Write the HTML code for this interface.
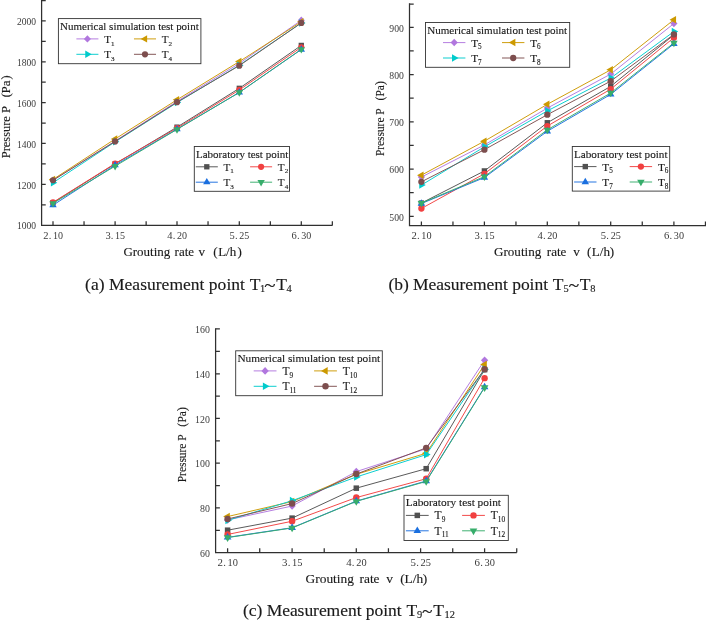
<!DOCTYPE html>
<html><head><meta charset="utf-8"><title>Grouting pressure curves</title>
<style>html,body{margin:0;padding:0;background:#fff}svg{display:block}svg{will-change:transform}text{font-family:"Liberation Serif", serif;}</style></head><body>
<svg width="706" height="621" viewBox="0 0 706 621">
<rect width="706" height="621" fill="#fff"/>
<path d="M41.60 -2.00V225.30H332.60" fill="none" stroke="#303030" stroke-width="1.25"/>
<path d="M53.00 225.30v-4.13M84.04 225.30v-4.13M115.10 225.30v-4.13M146.14 225.30v-4.13M177.00 225.30v-4.13M208.04 225.30v-4.13M239.30 225.30v-4.13M270.34 225.30v-4.13M301.30 225.30v-4.13M332.34 225.30v-4.13M41.60 20.90h4.13M41.60 41.33h4.13M41.60 61.76h4.13M41.60 82.19h4.13M41.60 102.62h4.13M41.60 123.05h4.13M41.60 143.48h4.13M41.60 163.91h4.13M41.60 184.34h4.13M41.60 204.77h4.13M41.60 0.50h4.13" fill="none" stroke="#303030" stroke-width="1.25"/>
<text x="36.09" y="25.13" font-size="10.53" text-anchor="end" fill="#3a3a3a" textLength="19.09" lengthAdjust="spacingAndGlyphs">2000</text>
<text x="36.09" y="65.99" font-size="10.53" text-anchor="end" fill="#3a3a3a" textLength="19.09" lengthAdjust="spacingAndGlyphs">1800</text>
<text x="36.09" y="106.85" font-size="10.53" text-anchor="end" fill="#3a3a3a" textLength="19.09" lengthAdjust="spacingAndGlyphs">1600</text>
<text x="36.09" y="147.71" font-size="10.53" text-anchor="end" fill="#3a3a3a" textLength="19.09" lengthAdjust="spacingAndGlyphs">1400</text>
<text x="36.09" y="188.57" font-size="10.53" text-anchor="end" fill="#3a3a3a" textLength="19.09" lengthAdjust="spacingAndGlyphs">1200</text>
<text x="36.09" y="229.43" font-size="10.53" text-anchor="end" fill="#3a3a3a" textLength="19.09" lengthAdjust="spacingAndGlyphs">1000</text>
<text y="239.00" font-size="10.53" fill="#3a3a3a"><tspan x="43.31" textLength="5.25" lengthAdjust="spacingAndGlyphs">2</tspan><tspan x="48.73">.</tspan><tspan x="52.95" textLength="10.02" lengthAdjust="spacingAndGlyphs">10</tspan></text>
<text y="239.00" font-size="10.53" fill="#3a3a3a"><tspan x="105.41" textLength="5.25" lengthAdjust="spacingAndGlyphs">3</tspan><tspan x="110.83">.</tspan><tspan x="115.05" textLength="10.02" lengthAdjust="spacingAndGlyphs">15</tspan></text>
<text y="239.00" font-size="10.53" fill="#3a3a3a"><tspan x="167.31" textLength="5.25" lengthAdjust="spacingAndGlyphs">4</tspan><tspan x="172.73">.</tspan><tspan x="176.95" textLength="10.02" lengthAdjust="spacingAndGlyphs">20</tspan></text>
<text y="239.00" font-size="10.53" fill="#3a3a3a"><tspan x="229.61" textLength="5.25" lengthAdjust="spacingAndGlyphs">5</tspan><tspan x="235.03">.</tspan><tspan x="239.25" textLength="10.02" lengthAdjust="spacingAndGlyphs">25</tspan></text>
<text y="239.00" font-size="10.53" fill="#3a3a3a"><tspan x="291.61" textLength="5.25" lengthAdjust="spacingAndGlyphs">6</tspan><tspan x="297.03">.</tspan><tspan x="301.25" textLength="10.02" lengthAdjust="spacingAndGlyphs">30</tspan></text>
<text y="255.50" font-size="13.0" fill="#1a1a1a" stroke="#1a1a1a" stroke-width="0.13"><tspan x="123.40">Grouting</tspan><tspan x="174.60">rate</tspan><tspan x="198.60">v</tspan><tspan x="213.20">(</tspan><tspan x="218.15">L/h</tspan><tspan x="237.50">)</tspan></text>
<text transform="translate(10.40 158.20) rotate(-90)" font-size="12.4" fill="#1a1a1a" stroke="#1a1a1a" stroke-width="0.13"><tspan x="0">Pressure P</tspan><tspan x="60.90">(</tspan><tspan x="64.80" textLength="13.00" lengthAdjust="spacingAndGlyphs">Pa</tspan><tspan x="78.70">)</tspan></text>
<polyline points="53.00,202.73 115.10,163.91 177.00,127.14 239.30,88.32 301.30,45.42" fill="none" stroke="#515151" stroke-width="0.95"/>
<rect x="50.34" y="200.07" width="5.31" height="5.31" fill="#515151"/>
<rect x="112.44" y="161.25" width="5.31" height="5.31" fill="#515151"/>
<rect x="174.34" y="124.48" width="5.31" height="5.31" fill="#515151"/>
<rect x="236.64" y="85.66" width="5.31" height="5.31" fill="#515151"/>
<rect x="298.64" y="42.76" width="5.31" height="5.31" fill="#515151"/>
<polyline points="53.00,202.32 115.10,163.50 177.00,128.16 239.30,89.95 301.30,47.25" fill="none" stroke="#F14040" stroke-width="0.95"/>
<circle cx="53.00" cy="202.32" r="3.10" fill="#F14040"/>
<circle cx="115.10" cy="163.50" r="3.10" fill="#F14040"/>
<circle cx="177.00" cy="128.16" r="3.10" fill="#F14040"/>
<circle cx="239.30" cy="89.95" r="3.10" fill="#F14040"/>
<circle cx="301.30" cy="47.25" r="3.10" fill="#F14040"/>
<polyline points="53.00,205.18 115.10,165.14 177.00,129.18 239.30,92.41 301.30,49.50" fill="none" stroke="#1A6FDF" stroke-width="0.95"/>
<path d="M49.31 207.31L56.69 207.31L53.00 200.92Z" fill="#1A6FDF"/>
<path d="M111.41 167.27L118.79 167.27L115.10 160.88Z" fill="#1A6FDF"/>
<path d="M173.31 131.31L180.69 131.31L177.00 124.92Z" fill="#1A6FDF"/>
<path d="M235.61 94.54L242.99 94.54L239.30 88.14Z" fill="#1A6FDF"/>
<path d="M297.61 51.63L304.99 51.63L301.30 45.24Z" fill="#1A6FDF"/>
<polyline points="53.00,203.34 115.10,166.16 177.00,129.38 239.30,92.41 301.30,49.30" fill="none" stroke="#37AD6B" stroke-width="0.95"/>
<path d="M49.31 201.21L56.69 201.21L53.00 207.60Z" fill="#37AD6B"/>
<path d="M111.41 164.03L118.79 164.03L115.10 170.42Z" fill="#37AD6B"/>
<path d="M173.31 127.25L180.69 127.25L177.00 133.64Z" fill="#37AD6B"/>
<path d="M235.61 90.27L242.99 90.27L239.30 96.67Z" fill="#37AD6B"/>
<path d="M297.61 47.17L304.99 47.17L301.30 53.56Z" fill="#37AD6B"/>
<polyline points="53.00,180.25 115.10,141.03 177.00,101.39 239.30,63.39 301.30,20.29" fill="none" stroke="#B177DE" stroke-width="0.95"/>
<path d="M49.46 180.25L53.00 176.56L56.54 180.25L53.00 183.94Z" fill="#B177DE"/>
<path d="M111.56 141.03L115.10 137.34L118.64 141.03L115.10 144.72Z" fill="#B177DE"/>
<path d="M173.46 101.39L177.00 97.70L180.54 101.39L177.00 105.08Z" fill="#B177DE"/>
<path d="M235.76 63.39L239.30 59.70L242.84 63.39L239.30 67.08Z" fill="#B177DE"/>
<path d="M297.76 20.29L301.30 16.60L304.84 20.29L301.30 23.98Z" fill="#B177DE"/>
<polyline points="53.00,179.44 115.10,138.99 177.00,99.76 239.30,61.56 301.30,21.72" fill="none" stroke="#CC9900" stroke-width="0.95"/>
<path d="M48.74 179.44L55.13 175.75L55.13 183.13Z" fill="#CC9900"/>
<path d="M110.84 138.99L117.23 135.30L117.23 142.68Z" fill="#CC9900"/>
<path d="M172.74 99.76L179.13 96.07L179.13 103.45Z" fill="#CC9900"/>
<path d="M235.04 61.56L241.43 57.87L241.43 65.25Z" fill="#CC9900"/>
<path d="M297.04 21.72L303.43 18.03L303.43 25.41Z" fill="#CC9900"/>
<polyline points="53.00,182.71 115.10,141.85 177.00,102.62 239.30,65.23 301.30,22.94" fill="none" stroke="#00CBCC" stroke-width="0.95"/>
<path d="M57.26 182.71L50.87 179.02L50.87 186.40Z" fill="#00CBCC"/>
<path d="M119.36 141.85L112.97 138.16L112.97 145.54Z" fill="#00CBCC"/>
<path d="M181.26 102.62L174.87 98.93L174.87 106.31Z" fill="#00CBCC"/>
<path d="M243.56 65.23L237.17 61.54L237.17 68.92Z" fill="#00CBCC"/>
<path d="M305.56 22.94L299.17 19.25L299.17 26.63Z" fill="#00CBCC"/>
<polyline points="53.00,180.25 115.10,141.44 177.00,102.21 239.30,65.64 301.30,22.94" fill="none" stroke="#7D4E4E" stroke-width="0.95"/>
<circle cx="53.00" cy="180.25" r="3.10" fill="#7D4E4E"/>
<circle cx="115.10" cy="141.44" r="3.10" fill="#7D4E4E"/>
<circle cx="177.00" cy="102.21" r="3.10" fill="#7D4E4E"/>
<circle cx="239.30" cy="65.64" r="3.10" fill="#7D4E4E"/>
<circle cx="301.30" cy="22.94" r="3.10" fill="#7D4E4E"/>
<rect x="58.40" y="18.60" width="142.50" height="45.10" fill="#fff" stroke="#333" stroke-width="0.9"/>
<text x="60.10" y="29.90" font-size="10.92" text-anchor="start" fill="#1a1a1a" textLength="138.60" lengthAdjust="spacingAndGlyphs" stroke="#1a1a1a" stroke-width="0.13">Numerical simulation test point</text>
<path d="M76.38 38.90h22.04" stroke="#B177DE" stroke-width="0.95" fill="none"/>
<path d="M83.86 38.90L87.40 35.21L90.94 38.90L87.40 42.59Z" fill="#B177DE"/>
<text x="104.13" y="42.90" font-size="11.12" text-anchor="start" fill="#1a1a1a" stroke="#1a1a1a" stroke-width="0.13">T<tspan dy="2.6" font-size="7.08">1</tspan></text>
<path d="M133.98 38.90h22.04" stroke="#CC9900" stroke-width="0.95" fill="none"/>
<path d="M140.74 38.90L147.13 35.21L147.13 42.59Z" fill="#CC9900"/>
<text x="161.73" y="42.90" font-size="11.12" text-anchor="start" fill="#1a1a1a" stroke="#1a1a1a" stroke-width="0.13">T<tspan dy="2.6" font-size="7.08">2</tspan></text>
<path d="M76.38 54.30h22.04" stroke="#00CBCC" stroke-width="0.95" fill="none"/>
<path d="M91.66 54.30L85.27 50.61L85.27 57.99Z" fill="#00CBCC"/>
<text x="104.13" y="58.30" font-size="11.12" text-anchor="start" fill="#1a1a1a" stroke="#1a1a1a" stroke-width="0.13">T<tspan dy="2.6" font-size="7.08">3</tspan></text>
<path d="M133.98 54.30h22.04" stroke="#7D4E4E" stroke-width="0.95" fill="none"/>
<circle cx="145.00" cy="54.30" r="3.10" fill="#7D4E4E"/>
<text x="161.73" y="58.30" font-size="11.12" text-anchor="start" fill="#1a1a1a" stroke="#1a1a1a" stroke-width="0.13">T<tspan dy="2.6" font-size="7.08">4</tspan></text>
<rect x="194.30" y="146.50" width="95.20" height="44.80" fill="#fff" stroke="#333" stroke-width="0.9"/>
<text x="196.00" y="157.80" font-size="10.92" text-anchor="start" fill="#1a1a1a" textLength="92.30" lengthAdjust="spacingAndGlyphs" stroke="#1a1a1a" stroke-width="0.13">Laboratory test point</text>
<path d="M195.78 166.80h22.04" stroke="#515151" stroke-width="0.95" fill="none"/>
<rect x="204.14" y="164.14" width="5.31" height="5.31" fill="#515151"/>
<text x="223.53" y="170.80" font-size="11.12" text-anchor="start" fill="#1a1a1a" stroke="#1a1a1a" stroke-width="0.13">T<tspan dy="2.6" font-size="7.08">1</tspan></text>
<path d="M250.08 166.80h22.04" stroke="#F14040" stroke-width="0.95" fill="none"/>
<circle cx="261.10" cy="166.80" r="3.10" fill="#F14040"/>
<text x="277.83" y="170.80" font-size="11.12" text-anchor="start" fill="#1a1a1a" stroke="#1a1a1a" stroke-width="0.13">T<tspan dy="2.6" font-size="7.08">2</tspan></text>
<path d="M195.78 182.20h22.04" stroke="#1A6FDF" stroke-width="0.95" fill="none"/>
<path d="M203.11 184.33L210.49 184.33L206.80 177.94Z" fill="#1A6FDF"/>
<text x="223.53" y="186.20" font-size="11.12" text-anchor="start" fill="#1a1a1a" stroke="#1a1a1a" stroke-width="0.13">T<tspan dy="2.6" font-size="7.08">3</tspan></text>
<path d="M250.08 182.20h22.04" stroke="#37AD6B" stroke-width="0.95" fill="none"/>
<path d="M257.41 180.07L264.79 180.07L261.10 186.46Z" fill="#37AD6B"/>
<text x="277.83" y="186.20" font-size="11.12" text-anchor="start" fill="#1a1a1a" stroke="#1a1a1a" stroke-width="0.13">T<tspan dy="2.6" font-size="7.08">4</tspan></text>
<path d="M409.50 3.35V225.70H707.00" fill="none" stroke="#303030" stroke-width="1.25"/>
<path d="M421.40 225.70v-4.20M452.96 225.70v-4.20M484.40 225.70v-4.20M515.96 225.70v-4.20M547.30 225.70v-4.20M578.86 225.70v-4.20M610.70 225.70v-4.20M642.26 225.70v-4.20M673.90 225.70v-4.20M705.46 225.70v-4.20M409.50 27.30h4.20M409.50 50.92h4.20M409.50 74.55h4.20M409.50 98.17h4.20M409.50 121.80h4.20M409.50 145.43h4.20M409.50 169.05h4.20M409.50 192.68h4.20M409.50 216.30h4.20M409.50 4.00h4.20" fill="none" stroke="#303030" stroke-width="1.25"/>
<text x="403.90" y="31.60" font-size="10.7" text-anchor="end" fill="#3a3a3a" textLength="14.55" lengthAdjust="spacingAndGlyphs">900</text>
<text x="403.90" y="78.85" font-size="10.7" text-anchor="end" fill="#3a3a3a" textLength="14.55" lengthAdjust="spacingAndGlyphs">800</text>
<text x="403.90" y="126.10" font-size="10.7" text-anchor="end" fill="#3a3a3a" textLength="14.55" lengthAdjust="spacingAndGlyphs">700</text>
<text x="403.90" y="173.35" font-size="10.7" text-anchor="end" fill="#3a3a3a" textLength="14.55" lengthAdjust="spacingAndGlyphs">600</text>
<text x="403.90" y="220.60" font-size="10.7" text-anchor="end" fill="#3a3a3a" textLength="14.55" lengthAdjust="spacingAndGlyphs">500</text>
<text y="238.70" font-size="10.7" fill="#3a3a3a"><tspan x="411.55" textLength="5.33" lengthAdjust="spacingAndGlyphs">2</tspan><tspan x="417.05">.</tspan><tspan x="421.35" textLength="10.19" lengthAdjust="spacingAndGlyphs">10</tspan></text>
<text y="238.70" font-size="10.7" fill="#3a3a3a"><tspan x="474.55" textLength="5.33" lengthAdjust="spacingAndGlyphs">3</tspan><tspan x="480.05">.</tspan><tspan x="484.35" textLength="10.19" lengthAdjust="spacingAndGlyphs">15</tspan></text>
<text y="238.70" font-size="10.7" fill="#3a3a3a"><tspan x="537.45" textLength="5.33" lengthAdjust="spacingAndGlyphs">4</tspan><tspan x="542.95">.</tspan><tspan x="547.25" textLength="10.19" lengthAdjust="spacingAndGlyphs">20</tspan></text>
<text y="238.70" font-size="10.7" fill="#3a3a3a"><tspan x="600.85" textLength="5.33" lengthAdjust="spacingAndGlyphs">5</tspan><tspan x="606.35">.</tspan><tspan x="610.65" textLength="10.19" lengthAdjust="spacingAndGlyphs">25</tspan></text>
<text y="238.70" font-size="10.7" fill="#3a3a3a"><tspan x="664.05" textLength="5.33" lengthAdjust="spacingAndGlyphs">6</tspan><tspan x="669.55">.</tspan><tspan x="673.85" textLength="10.19" lengthAdjust="spacingAndGlyphs">30</tspan></text>
<text y="255.90" font-size="13.1" fill="#1a1a1a" stroke="#1a1a1a" stroke-width="0.13"><tspan x="494.00">Grouting</tspan><tspan x="546.80">rate</tspan><tspan x="573.30">v</tspan><tspan x="587.10">(</tspan><tspan x="591.75">L/h</tspan><tspan x="609.70">)</tspan></text>
<text transform="translate(383.80 156.10) rotate(-90)" font-size="11.7" fill="#1a1a1a" stroke="#1a1a1a" stroke-width="0.13"><tspan x="0" textLength="47.70" lengthAdjust="spacingAndGlyphs">Pressure P</tspan><tspan x="55.50">(</tspan><tspan x="59.60" textLength="11.30" lengthAdjust="spacingAndGlyphs">Pa</tspan><tspan x="71.10">)</tspan></text>
<polyline points="421.40,203.07 484.40,170.94 547.30,122.75 610.70,86.36 673.90,34.86" fill="none" stroke="#515151" stroke-width="0.95"/>
<rect x="418.70" y="200.37" width="5.40" height="5.40" fill="#515151"/>
<rect x="481.70" y="168.24" width="5.40" height="5.40" fill="#515151"/>
<rect x="544.60" y="120.05" width="5.40" height="5.40" fill="#515151"/>
<rect x="608.00" y="83.66" width="5.40" height="5.40" fill="#515151"/>
<rect x="671.20" y="32.16" width="5.40" height="5.40" fill="#515151"/>
<polyline points="421.40,208.50 484.40,173.78 547.30,126.05 610.70,89.20 673.90,37.70" fill="none" stroke="#F14040" stroke-width="0.95"/>
<circle cx="421.40" cy="208.50" r="3.15" fill="#F14040"/>
<circle cx="484.40" cy="173.78" r="3.15" fill="#F14040"/>
<circle cx="547.30" cy="126.05" r="3.15" fill="#F14040"/>
<circle cx="610.70" cy="89.20" r="3.15" fill="#F14040"/>
<circle cx="673.90" cy="37.70" r="3.15" fill="#F14040"/>
<polyline points="421.40,203.54 484.40,177.56 547.30,131.25 610.70,94.40 673.90,43.84" fill="none" stroke="#1A6FDF" stroke-width="0.95"/>
<path d="M417.65 205.71L425.15 205.71L421.40 199.21Z" fill="#1A6FDF"/>
<path d="M480.65 179.72L488.15 179.72L484.40 173.22Z" fill="#1A6FDF"/>
<path d="M543.55 133.41L551.05 133.41L547.30 126.92Z" fill="#1A6FDF"/>
<path d="M606.95 96.56L614.45 96.56L610.70 90.07Z" fill="#1A6FDF"/>
<path d="M670.15 46.00L677.65 46.00L673.90 39.51Z" fill="#1A6FDF"/>
<polyline points="421.40,203.07 484.40,176.61 547.30,129.83 610.70,92.98 673.90,42.89" fill="none" stroke="#37AD6B" stroke-width="0.95"/>
<path d="M417.65 200.91L425.15 200.91L421.40 207.40Z" fill="#37AD6B"/>
<path d="M480.65 174.45L488.15 174.45L484.40 180.94Z" fill="#37AD6B"/>
<path d="M543.55 127.67L551.05 127.67L547.30 134.16Z" fill="#37AD6B"/>
<path d="M606.95 90.81L614.45 90.81L610.70 97.31Z" fill="#37AD6B"/>
<path d="M670.15 40.73L677.65 40.73L673.90 47.22Z" fill="#37AD6B"/>
<polyline points="421.40,177.08 484.40,144.95 547.30,108.10 610.70,74.08 673.90,23.52" fill="none" stroke="#B177DE" stroke-width="0.95"/>
<path d="M417.80 177.08L421.40 173.33L425.00 177.08L421.40 180.83Z" fill="#B177DE"/>
<path d="M480.80 144.95L484.40 141.20L488.00 144.95L484.40 148.70Z" fill="#B177DE"/>
<path d="M543.70 108.10L547.30 104.35L550.90 108.10L547.30 111.85Z" fill="#B177DE"/>
<path d="M607.10 74.08L610.70 70.33L614.30 74.08L610.70 77.83Z" fill="#B177DE"/>
<path d="M670.30 23.52L673.90 19.77L677.50 23.52L673.90 27.27Z" fill="#B177DE"/>
<polyline points="421.40,175.19 484.40,141.17 547.30,104.32 610.70,69.83 673.90,19.74" fill="none" stroke="#CC9900" stroke-width="0.95"/>
<path d="M417.07 175.19L423.56 171.44L423.56 178.94Z" fill="#CC9900"/>
<path d="M480.07 141.17L486.56 137.42L486.56 144.92Z" fill="#CC9900"/>
<path d="M542.97 104.32L549.46 100.57L549.46 108.07Z" fill="#CC9900"/>
<path d="M606.37 69.83L612.87 66.08L612.87 73.58Z" fill="#CC9900"/>
<path d="M669.57 19.74L676.06 15.99L676.06 23.49Z" fill="#CC9900"/>
<polyline points="421.40,185.12 484.40,146.84 547.30,110.93 610.70,78.09 673.90,31.55" fill="none" stroke="#00CBCC" stroke-width="0.95"/>
<path d="M425.73 185.12L419.23 181.37L419.23 188.87Z" fill="#00CBCC"/>
<path d="M488.73 146.84L482.23 143.09L482.23 150.59Z" fill="#00CBCC"/>
<path d="M551.63 110.93L545.13 107.18L545.13 114.68Z" fill="#00CBCC"/>
<path d="M615.03 78.09L608.54 74.34L608.54 81.84Z" fill="#00CBCC"/>
<path d="M678.23 31.55L671.74 27.80L671.74 35.30Z" fill="#00CBCC"/>
<polyline points="421.40,181.81 484.40,149.68 547.30,114.71 610.70,81.17 673.90,34.39" fill="none" stroke="#7D4E4E" stroke-width="0.95"/>
<circle cx="421.40" cy="181.81" r="3.15" fill="#7D4E4E"/>
<circle cx="484.40" cy="149.68" r="3.15" fill="#7D4E4E"/>
<circle cx="547.30" cy="114.71" r="3.15" fill="#7D4E4E"/>
<circle cx="610.70" cy="81.17" r="3.15" fill="#7D4E4E"/>
<circle cx="673.90" cy="34.39" r="3.15" fill="#7D4E4E"/>
<rect x="425.50" y="22.50" width="144.20" height="44.80" fill="#fff" stroke="#333" stroke-width="0.9"/>
<text x="427.20" y="33.60" font-size="11.1" text-anchor="start" fill="#1a1a1a" textLength="140.00" lengthAdjust="spacingAndGlyphs" stroke="#1a1a1a" stroke-width="0.13">Numerical simulation test point</text>
<path d="M443.00 42.60h22.40" stroke="#B177DE" stroke-width="0.95" fill="none"/>
<path d="M450.60 42.60L454.20 38.85L457.80 42.60L454.20 46.35Z" fill="#B177DE"/>
<text x="471.20" y="46.60" font-size="11.3" text-anchor="start" fill="#1a1a1a" stroke="#1a1a1a" stroke-width="0.13">T<tspan dy="2.6" font-size="7.2">5</tspan></text>
<path d="M502.00 42.60h22.40" stroke="#CC9900" stroke-width="0.95" fill="none"/>
<path d="M508.87 42.60L515.37 38.85L515.37 46.35Z" fill="#CC9900"/>
<text x="530.20" y="46.60" font-size="11.3" text-anchor="start" fill="#1a1a1a" stroke="#1a1a1a" stroke-width="0.13">T<tspan dy="2.6" font-size="7.2">6</tspan></text>
<path d="M443.00 58.00h22.40" stroke="#00CBCC" stroke-width="0.95" fill="none"/>
<path d="M458.53 58.00L452.03 54.25L452.03 61.75Z" fill="#00CBCC"/>
<text x="471.20" y="62.00" font-size="11.3" text-anchor="start" fill="#1a1a1a" stroke="#1a1a1a" stroke-width="0.13">T<tspan dy="2.6" font-size="7.2">7</tspan></text>
<path d="M502.00 58.00h22.40" stroke="#7D4E4E" stroke-width="0.95" fill="none"/>
<circle cx="513.20" cy="58.00" r="3.15" fill="#7D4E4E"/>
<text x="530.20" y="62.00" font-size="11.3" text-anchor="start" fill="#1a1a1a" stroke="#1a1a1a" stroke-width="0.13">T<tspan dy="2.6" font-size="7.2">8</tspan></text>
<rect x="572.30" y="146.50" width="97.40" height="44.60" fill="#fff" stroke="#333" stroke-width="0.9"/>
<text x="574.00" y="157.60" font-size="11.1" text-anchor="start" fill="#1a1a1a" textLength="93.50" lengthAdjust="spacingAndGlyphs" stroke="#1a1a1a" stroke-width="0.13">Laboratory test point</text>
<path d="M574.10 166.60h22.40" stroke="#515151" stroke-width="0.95" fill="none"/>
<rect x="582.60" y="163.90" width="5.40" height="5.40" fill="#515151"/>
<text x="602.30" y="170.60" font-size="11.3" text-anchor="start" fill="#1a1a1a" stroke="#1a1a1a" stroke-width="0.13">T<tspan dy="2.6" font-size="7.2">5</tspan></text>
<path d="M629.70 166.60h22.40" stroke="#F14040" stroke-width="0.95" fill="none"/>
<circle cx="640.90" cy="166.60" r="3.15" fill="#F14040"/>
<text x="657.90" y="170.60" font-size="11.3" text-anchor="start" fill="#1a1a1a" stroke="#1a1a1a" stroke-width="0.13">T<tspan dy="2.6" font-size="7.2">6</tspan></text>
<path d="M574.10 182.00h22.40" stroke="#1A6FDF" stroke-width="0.95" fill="none"/>
<path d="M581.55 184.16L589.05 184.16L585.30 177.67Z" fill="#1A6FDF"/>
<text x="602.30" y="186.00" font-size="11.3" text-anchor="start" fill="#1a1a1a" stroke="#1a1a1a" stroke-width="0.13">T<tspan dy="2.6" font-size="7.2">7</tspan></text>
<path d="M629.70 182.00h22.40" stroke="#37AD6B" stroke-width="0.95" fill="none"/>
<path d="M637.15 179.84L644.65 179.84L640.90 186.33Z" fill="#37AD6B"/>
<text x="657.90" y="186.00" font-size="11.3" text-anchor="start" fill="#1a1a1a" stroke="#1a1a1a" stroke-width="0.13">T<tspan dy="2.6" font-size="7.2">8</tspan></text>
<path d="M215.60 328.30V552.60H516.80" fill="none" stroke="#303030" stroke-width="1.25"/>
<path d="M227.60 552.60v-4.28M259.73 552.60v-4.28M292.10 552.60v-4.28M324.23 552.60v-4.28M356.30 552.60v-4.28M388.43 552.60v-4.28M420.60 552.60v-4.28M452.73 552.60v-4.28M484.60 552.60v-4.28M516.73 552.60v-4.28M215.60 328.95h4.28M215.60 351.38h4.28M215.60 373.80h4.28M215.60 396.23h4.28M215.60 418.45h4.28M215.60 440.88h4.28M215.60 463.10h4.28M215.60 485.53h4.28M215.60 507.85h4.28M215.60 530.28h4.28" fill="none" stroke="#303030" stroke-width="1.25"/>
<text x="209.90" y="333.33" font-size="10.89" text-anchor="end" fill="#3a3a3a" textLength="14.81" lengthAdjust="spacingAndGlyphs">160</text>
<text x="209.90" y="378.18" font-size="10.89" text-anchor="end" fill="#3a3a3a" textLength="14.81" lengthAdjust="spacingAndGlyphs">140</text>
<text x="209.90" y="422.83" font-size="10.89" text-anchor="end" fill="#3a3a3a" textLength="14.81" lengthAdjust="spacingAndGlyphs">120</text>
<text x="209.90" y="467.48" font-size="10.89" text-anchor="end" fill="#3a3a3a" textLength="14.81" lengthAdjust="spacingAndGlyphs">100</text>
<text x="209.90" y="512.23" font-size="10.89" text-anchor="end" fill="#3a3a3a" textLength="9.87" lengthAdjust="spacingAndGlyphs">80</text>
<text x="209.90" y="556.98" font-size="10.89" text-anchor="end" fill="#3a3a3a" textLength="9.87" lengthAdjust="spacingAndGlyphs">60</text>
<text y="566.00" font-size="10.89" fill="#3a3a3a"><tspan x="217.58" textLength="5.43" lengthAdjust="spacingAndGlyphs">2</tspan><tspan x="223.16">.</tspan><tspan x="227.55" textLength="10.37" lengthAdjust="spacingAndGlyphs">10</tspan></text>
<text y="566.00" font-size="10.89" fill="#3a3a3a"><tspan x="282.08" textLength="5.43" lengthAdjust="spacingAndGlyphs">3</tspan><tspan x="287.66">.</tspan><tspan x="292.05" textLength="10.37" lengthAdjust="spacingAndGlyphs">15</tspan></text>
<text y="566.00" font-size="10.89" fill="#3a3a3a"><tspan x="346.28" textLength="5.43" lengthAdjust="spacingAndGlyphs">4</tspan><tspan x="351.86">.</tspan><tspan x="356.25" textLength="10.37" lengthAdjust="spacingAndGlyphs">20</tspan></text>
<text y="566.00" font-size="10.89" fill="#3a3a3a"><tspan x="410.58" textLength="5.43" lengthAdjust="spacingAndGlyphs">5</tspan><tspan x="416.16">.</tspan><tspan x="420.55" textLength="10.37" lengthAdjust="spacingAndGlyphs">25</tspan></text>
<text y="566.00" font-size="10.89" fill="#3a3a3a"><tspan x="474.58" textLength="5.43" lengthAdjust="spacingAndGlyphs">6</tspan><tspan x="480.16">.</tspan><tspan x="484.55" textLength="10.37" lengthAdjust="spacingAndGlyphs">30</tspan></text>
<text y="582.80" font-size="13.4" fill="#1a1a1a" stroke="#1a1a1a" stroke-width="0.13"><tspan x="305.60">Grouting</tspan><tspan x="359.50">rate</tspan><tspan x="386.30">v</tspan><tspan x="400.20">(</tspan><tspan x="404.60">L/h</tspan><tspan x="422.80">)</tspan></text>
<text transform="translate(186.10 482.20) rotate(-90)" font-size="11.7" fill="#1a1a1a" stroke="#1a1a1a" stroke-width="0.13"><tspan x="0" textLength="47.70" lengthAdjust="spacingAndGlyphs">Pressure P</tspan><tspan x="55.50">(</tspan><tspan x="59.70" textLength="11.30" lengthAdjust="spacingAndGlyphs">Pa</tspan><tspan x="71.20">)</tspan></text>
<polyline points="227.60,530.19 292.10,518.12 356.30,488.16 426.20,468.70 484.60,369.65" fill="none" stroke="#515151" stroke-width="0.95"/>
<rect x="224.85" y="527.44" width="5.50" height="5.50" fill="#515151"/>
<rect x="289.35" y="515.37" width="5.50" height="5.50" fill="#515151"/>
<rect x="353.55" y="485.41" width="5.50" height="5.50" fill="#515151"/>
<rect x="423.45" y="465.95" width="5.50" height="5.50" fill="#515151"/>
<rect x="481.85" y="366.90" width="5.50" height="5.50" fill="#515151"/>
<polyline points="227.60,534.44 292.10,521.25 356.30,497.55 426.20,478.76 484.60,378.14" fill="none" stroke="#F14040" stroke-width="0.95"/>
<circle cx="227.60" cy="534.44" r="3.21" fill="#F14040"/>
<circle cx="292.10" cy="521.25" r="3.21" fill="#F14040"/>
<circle cx="356.30" cy="497.55" r="3.21" fill="#F14040"/>
<circle cx="426.20" cy="478.76" r="3.21" fill="#F14040"/>
<circle cx="484.60" cy="378.14" r="3.21" fill="#F14040"/>
<polyline points="227.60,537.35 292.10,527.73 356.30,501.12 426.20,481.00 484.60,387.09" fill="none" stroke="#1A6FDF" stroke-width="0.95"/>
<path d="M223.78 539.55L231.42 539.55L227.60 532.94Z" fill="#1A6FDF"/>
<path d="M288.28 529.94L295.92 529.94L292.10 523.33Z" fill="#1A6FDF"/>
<path d="M352.48 503.33L360.12 503.33L356.30 496.72Z" fill="#1A6FDF"/>
<path d="M422.38 483.20L430.02 483.20L426.20 476.59Z" fill="#1A6FDF"/>
<path d="M480.78 389.29L488.42 389.29L484.60 382.68Z" fill="#1A6FDF"/>
<polyline points="227.60,537.57 292.10,527.96 356.30,501.35 426.20,481.45 484.60,387.54" fill="none" stroke="#37AD6B" stroke-width="0.95"/>
<path d="M223.78 535.37L231.42 535.37L227.60 541.98Z" fill="#37AD6B"/>
<path d="M288.28 525.75L295.92 525.75L292.10 532.36Z" fill="#37AD6B"/>
<path d="M352.48 499.14L360.12 499.14L356.30 505.76Z" fill="#37AD6B"/>
<path d="M422.38 479.24L430.02 479.24L426.20 485.86Z" fill="#37AD6B"/>
<path d="M480.78 385.33L488.42 385.33L484.60 391.94Z" fill="#37AD6B"/>
<polyline points="227.60,519.91 292.10,506.04 356.30,471.61 426.20,448.80 484.60,360.26" fill="none" stroke="#B177DE" stroke-width="0.95"/>
<path d="M223.94 519.91L227.60 516.09L231.26 519.91L227.60 523.72Z" fill="#B177DE"/>
<path d="M288.44 506.04L292.10 502.23L295.76 506.04L292.10 509.86Z" fill="#B177DE"/>
<path d="M352.64 471.61L356.30 467.79L359.96 471.61L356.30 475.43Z" fill="#B177DE"/>
<path d="M422.54 448.80L426.20 444.98L429.86 448.80L426.20 452.62Z" fill="#B177DE"/>
<path d="M480.94 360.26L484.60 356.44L488.26 360.26L484.60 364.07Z" fill="#B177DE"/>
<polyline points="227.60,516.55 292.10,501.57 356.30,474.29 426.20,453.27 484.60,364.51" fill="none" stroke="#CC9900" stroke-width="0.95"/>
<path d="M223.19 516.55L229.80 512.74L229.80 520.37Z" fill="#CC9900"/>
<path d="M287.69 501.57L294.30 497.75L294.30 505.39Z" fill="#CC9900"/>
<path d="M351.89 474.29L358.50 470.48L358.50 478.11Z" fill="#CC9900"/>
<path d="M421.79 453.27L428.40 449.46L428.40 457.09Z" fill="#CC9900"/>
<path d="M480.19 364.51L486.80 360.69L486.80 368.32Z" fill="#CC9900"/>
<polyline points="227.60,520.35 292.10,500.68 356.30,476.98 426.20,454.62 484.60,369.20" fill="none" stroke="#00CBCC" stroke-width="0.95"/>
<path d="M232.01 520.35L225.40 516.54L225.40 524.17Z" fill="#00CBCC"/>
<path d="M296.51 500.68L289.90 496.86L289.90 504.50Z" fill="#00CBCC"/>
<path d="M360.71 476.98L354.10 473.16L354.10 480.79Z" fill="#00CBCC"/>
<path d="M430.61 454.62L424.00 450.80L424.00 458.43Z" fill="#00CBCC"/>
<path d="M489.01 369.20L482.40 365.38L482.40 373.02Z" fill="#00CBCC"/>
<polyline points="227.60,519.01 292.10,503.58 356.30,474.07 426.20,447.91 484.60,369.20" fill="none" stroke="#7D4E4E" stroke-width="0.95"/>
<circle cx="227.60" cy="519.01" r="3.21" fill="#7D4E4E"/>
<circle cx="292.10" cy="503.58" r="3.21" fill="#7D4E4E"/>
<circle cx="356.30" cy="474.07" r="3.21" fill="#7D4E4E"/>
<circle cx="426.20" cy="447.91" r="3.21" fill="#7D4E4E"/>
<circle cx="484.60" cy="369.20" r="3.21" fill="#7D4E4E"/>
<rect x="235.70" y="350.80" width="146.60" height="44.90" fill="#fff" stroke="#333" stroke-width="0.9"/>
<text x="237.40" y="361.90" font-size="11.3" text-anchor="start" fill="#1a1a1a" textLength="142.80" lengthAdjust="spacingAndGlyphs" stroke="#1a1a1a" stroke-width="0.13">Numerical simulation test point</text>
<path d="M253.70 370.90h22.80" stroke="#B177DE" stroke-width="0.95" fill="none"/>
<path d="M261.44 370.90L265.10 367.08L268.76 370.90L265.10 374.72Z" fill="#B177DE"/>
<text x="282.41" y="374.90" font-size="11.5" text-anchor="start" fill="#1a1a1a" stroke="#1a1a1a" stroke-width="0.13">T<tspan dy="2.6" font-size="7.33">9</tspan></text>
<path d="M314.10 370.90h22.80" stroke="#CC9900" stroke-width="0.95" fill="none"/>
<path d="M321.09 370.90L327.70 367.08L327.70 374.72Z" fill="#CC9900"/>
<text x="342.81" y="374.90" font-size="11.5" text-anchor="start" fill="#1a1a1a" stroke="#1a1a1a" stroke-width="0.13">T<tspan dy="2.6" font-size="7.33">10</tspan></text>
<path d="M253.70 386.30h22.80" stroke="#00CBCC" stroke-width="0.95" fill="none"/>
<path d="M269.51 386.30L262.90 382.48L262.90 390.12Z" fill="#00CBCC"/>
<text x="282.41" y="390.30" font-size="11.5" text-anchor="start" fill="#1a1a1a" stroke="#1a1a1a" stroke-width="0.13">T<tspan dy="2.6" font-size="7.33">11</tspan></text>
<path d="M314.10 386.30h22.80" stroke="#7D4E4E" stroke-width="0.95" fill="none"/>
<circle cx="325.50" cy="386.30" r="3.21" fill="#7D4E4E"/>
<text x="342.81" y="390.30" font-size="11.5" text-anchor="start" fill="#1a1a1a" stroke="#1a1a1a" stroke-width="0.13">T<tspan dy="2.6" font-size="7.33">12</tspan></text>
<rect x="404.00" y="495.30" width="104.30" height="45.20" fill="#fff" stroke="#333" stroke-width="0.9"/>
<text x="405.70" y="506.40" font-size="11.3" text-anchor="start" fill="#1a1a1a" textLength="95.30" lengthAdjust="spacingAndGlyphs" stroke="#1a1a1a" stroke-width="0.13">Laboratory test point</text>
<path d="M405.90 515.40h22.80" stroke="#515151" stroke-width="0.95" fill="none"/>
<rect x="414.55" y="512.65" width="5.50" height="5.50" fill="#515151"/>
<text x="434.61" y="519.40" font-size="11.5" text-anchor="start" fill="#1a1a1a" stroke="#1a1a1a" stroke-width="0.13">T<tspan dy="2.6" font-size="7.33">9</tspan></text>
<path d="M462.10 515.40h22.80" stroke="#F14040" stroke-width="0.95" fill="none"/>
<circle cx="473.50" cy="515.40" r="3.21" fill="#F14040"/>
<text x="490.81" y="519.40" font-size="11.5" text-anchor="start" fill="#1a1a1a" stroke="#1a1a1a" stroke-width="0.13">T<tspan dy="2.6" font-size="7.33">10</tspan></text>
<path d="M405.90 530.80h22.80" stroke="#1A6FDF" stroke-width="0.95" fill="none"/>
<path d="M413.48 533.00L421.12 533.00L417.30 526.39Z" fill="#1A6FDF"/>
<text x="434.61" y="534.80" font-size="11.5" text-anchor="start" fill="#1a1a1a" stroke="#1a1a1a" stroke-width="0.13">T<tspan dy="2.6" font-size="7.33">11</tspan></text>
<path d="M462.10 530.80h22.80" stroke="#37AD6B" stroke-width="0.95" fill="none"/>
<path d="M469.68 528.60L477.32 528.60L473.50 535.21Z" fill="#37AD6B"/>
<text x="490.81" y="534.80" font-size="11.5" text-anchor="start" fill="#1a1a1a" stroke="#1a1a1a" stroke-width="0.13">T<tspan dy="2.6" font-size="7.33">12</tspan></text>
<text y="289.80" font-size="17.5" fill="#1a1a1a" stroke="#1a1a1a" stroke-width="0.15"><tspan x="85.10" textLength="159.82" lengthAdjust="spacing">(a) Measurement point</tspan><tspan x="249.70">T</tspan><tspan x="259.90" dy="2.0" font-size="10.4">1</tspan><tspan x="264.30" dy="-0.9" textLength="11.30" lengthAdjust="spacingAndGlyphs">~</tspan><tspan x="276.20" dy="-1.1">T</tspan><tspan x="286.60" dy="2.0" font-size="10.4">4</tspan></text>
<text y="289.60" font-size="17.5" fill="#1a1a1a" stroke="#1a1a1a" stroke-width="0.15"><tspan x="388.50" textLength="159.52" lengthAdjust="spacing">(b) Measurement point</tspan><tspan x="552.80">T</tspan><tspan x="563.60" dy="2.0" font-size="10.4">5</tspan><tspan x="568.50" dy="-0.9" textLength="10.70" lengthAdjust="spacingAndGlyphs">~</tspan><tspan x="579.80" dy="-1.1">T</tspan><tspan x="590.20" dy="2.0" font-size="10.4">8</tspan></text>
<text y="615.80" font-size="17.5" fill="#1a1a1a" stroke="#1a1a1a" stroke-width="0.15"><tspan x="243.00" textLength="158.62" lengthAdjust="spacing">(c) Measurement point</tspan><tspan x="406.40">T</tspan><tspan x="417.00" dy="2.0" font-size="10.4">9</tspan><tspan x="422.10" dy="-0.9" textLength="10.50" lengthAdjust="spacingAndGlyphs">~</tspan><tspan x="433.20" dy="-1.1">T</tspan><tspan x="444.50" dy="2.0" font-size="10.4">12</tspan></text>
</svg></body></html>
